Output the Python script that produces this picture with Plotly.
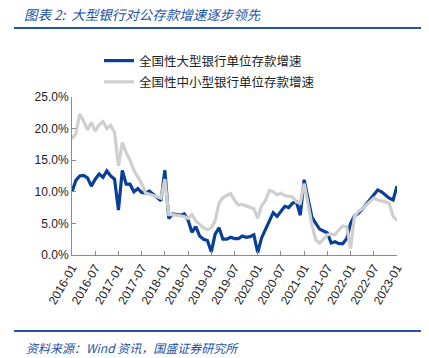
import plotly.graph_objects as go

months = [f"{y}-{m:02d}" for y in range(2016, 2024) for m in range(1, 13)][:85]

large_bank = [10.0, 11.8, 12.5, 12.6, 12.2, 10.9, 12.0, 12.8, 12.3, 13.3, 12.5, 12.0,
              7.1, 13.4, 11.2, 11.2, 10.0, 10.5, 9.9, 9.8, 10.1, 9.6, 9.2, 8.6,
              13.4, 5.8, 6.5, 6.4, 6.3, 6.5, 5.5, 3.6, 4.5, 3.0, 2.5, 2.3,
              0.5, 3.3, 4.3, 2.5, 2.5, 2.8, 2.6, 2.6, 3.0, 2.8, 2.9, 3.2,
              0.4, 2.7, 4.0, 5.3, 6.7, 6.1, 6.9, 7.7, 7.5, 8.2, 8.4, 6.3,
              11.9, 8.7, 6.0, 5.0, 4.1, 3.8, 3.5, 1.9, 2.1, 1.8, 1.8, 2.6,
              5.0, 6.2, 6.6, 7.2, 8.0, 8.9, 9.7, 10.3, 10.0, 9.5, 9.0, 8.7,
              10.9]

small_bank = [18.4, 19.2, 22.3, 21.2, 19.8, 21.0, 19.6, 20.6, 21.1, 20.0, 20.5, 19.4,
              14.1, 17.8, 16.2, 15.0, 13.4, 12.4, 11.3, 9.8, 9.6, 9.5, 9.3, 9.0,
              12.0, 6.4, 6.4, 6.3, 6.2, 6.1, 5.8, 6.4, 5.4, 4.8, 4.3, 4.0,
              4.3, 5.4, 8.2, 9.1, 9.4, 9.7, 8.7, 7.9, 8.0, 7.8, 7.6, 7.3,
              5.8, 7.8, 8.6, 10.2, 10.0, 9.5, 9.8, 9.4, 9.3, 9.2, 8.4, 8.2,
              11.3, 7.8, 4.8, 2.4, 1.9, 2.5, 3.2, 3.3, 3.2, 4.0, 4.6, 4.5,
              1.0, 6.1, 6.9, 7.3, 7.9, 8.5, 9.0, 8.7, 8.6, 8.4, 8.2, 6.1,
              5.5]

y_ticks = [0, 5, 10, 15, 20, 25]
y_tick_labels = ["0.0%", "5.0%", "10.0%", "15.0%", "20.0%", "25.0%"]
x_tick_labels = months[::6]

names = ["全国性大型银行单位存款增速", "全国性中小型银行单位存款增速"]
title_text = "图表 2:  大型银行对公存款增速逐步领先"
source_text = "资料来源：Wind 资讯，国盛证券研究所"

W, H = 429, 358
L, R, T, B = 72, 397, 97, 255


def fx(px):
    return (px - L) / (R - L)


def fy(py):
    return (B - py) / (B - T)


blue = "#0a3f97"
gray = "#cfcfcf"
accent = "#2453a3"
axis_col = "#8c8c8c"

fig = go.Figure()
fig.add_trace(go.Scatter(x=months, y=large_bank, mode="lines", name=names[0],
                         line=dict(color=blue, width=3.2), legendgroup="a"))
fig.add_trace(go.Scatter(x=months, y=small_bank, mode="lines", name=names[1],
                         line=dict(color=gray, width=3.2), legendgroup="b"))

fig.update_layout(
    width=W, height=H,
    margin=dict(l=L, r=W - R, t=T, b=H - B),
    paper_bgcolor="white", plot_bgcolor="white",
    font=dict(family="Liberation Sans, Arial, sans-serif", size=12, color="#222"),
    showlegend=True,
    legend=dict(x=fx(99), y=fy(46), xanchor="left", yanchor="top",
                font=dict(family="Noto Sans CJK SC", size=12.5, color="#222"),
                traceorder="grouped", tracegroupgap=2, itemwidth=30,
                bgcolor="rgba(0,0,0,0)"),
    xaxis=dict(type="category", range=[0, 84], tickmode="array",
               tickvals=x_tick_labels, ticktext=x_tick_labels, tickangle=-60,
               showgrid=False, zeroline=False, showline=True, linecolor=axis_col,
               linewidth=1, ticks="inside", ticklen=4, tickcolor=axis_col,
               tickfont=dict(size=12, color="#222")),
    yaxis=dict(range=[0, 25], tickmode="array", tickvals=y_ticks, ticktext=y_tick_labels,
               showgrid=False, zeroline=False, showline=True, linecolor=axis_col,
               linewidth=1, ticks="inside", ticklen=4, tickcolor=axis_col,
               tickfont=dict(size=12, color="#222")),
    shapes=[
        dict(type="line", xref="paper", yref="paper", x0=fx(14), x1=fx(421),
             y0=fy(28), y1=fy(28), line=dict(color=accent, width=2)),
        dict(type="line", xref="paper", yref="paper", x0=fx(14), x1=fx(421),
             y0=fy(331), y1=fy(331), line=dict(color=accent, width=2)),
    ],
    annotations=[
        dict(text="<i>" + title_text + "</i>", xref="paper", yref="paper", x=fx(22), y=fy(14),
             xanchor="left", yanchor="middle", showarrow=False,
             font=dict(family="Noto Sans CJK SC", size=13.5, color=accent)),
        dict(text="<i>" + source_text + "</i>", xref="paper", yref="paper", x=fx(24), y=fy(347),
             xanchor="left", yanchor="middle", showarrow=False,
             font=dict(family="Noto Sans CJK SC", size=12, color=accent)),
    ],
)

fig.write_html("out.html", config={"displayModeBar": False},
               post_script="document.body.style.margin='0';")
